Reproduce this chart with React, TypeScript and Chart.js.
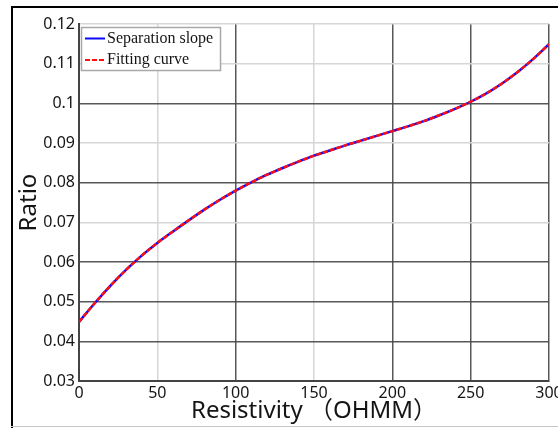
import React, { useEffect, useRef } from "react";
import { Chart, registerables } from "chart.js";

Chart.register(...registerables);

// Resistivity (OHMM) sample positions
const resistivity = [
  0, 10, 20, 30, 40, 50, 60, 70, 80, 90, 100, 110, 120, 130, 140, 150,
  160, 170, 180, 190, 200, 210, 220, 230, 240, 250, 260, 270, 280, 290, 300,
];

// Measured separation slope ratio
const separationSlope = [
  0.0449, 0.0496, 0.054, 0.058, 0.0616, 0.0648, 0.0677, 0.0705, 0.0732,
  0.0757, 0.078, 0.0801, 0.082, 0.0837, 0.0853, 0.0868, 0.0881, 0.0894,
  0.0906, 0.0918, 0.093, 0.0942, 0.0955, 0.097, 0.0986, 0.1004, 0.1025,
  0.105, 0.1079, 0.1112, 0.1149,
];

// Fitted curve evaluated at the same resistivities
const fittingCurve = [
  0.0449, 0.0496, 0.054, 0.058, 0.0616, 0.0648, 0.0677, 0.0705, 0.0732,
  0.0757, 0.078, 0.0801, 0.082, 0.0837, 0.0853, 0.0868, 0.0881, 0.0894,
  0.0906, 0.0918, 0.093, 0.0942, 0.0955, 0.097, 0.0986, 0.1004, 0.1025,
  0.105, 0.1079, 0.1112, 0.1149,
];

const xTicks = [0, 50, 100, 150, 200, 250, 300];
const yTicks = [0.03, 0.04, 0.05, 0.06, 0.07, 0.08, 0.09, 0.1, 0.11, 0.12];
const yTickLabels = ["0.03", "0.04", "0.05", "0.06", "0.07", "0.08", "0.09", "0.1", "0.11", "0.12"];

// Grid lines drawn in the darker tone
const majorX = [0, 100, 200, 250, 300];
const majorY = [0.03, 0.04, 0.05, 0.06, 0.08, 0.1];

const DARK = "rgba(70,70,70,0.9)";
const LIGHT = "#d6d6d6";
const TICK_FONT = { family: "'Noto Sans', 'DejaVu Sans', sans-serif", size: 16 };
const TITLE_FONT = { family: "'Noto Sans', 'Noto Sans CJK JP', sans-serif", size: 24 };

const near = (a: number, list: number[]) => list.some((v) => Math.abs(v - a) < 1e-6);

const decorPlugin = {
  id: "decor",
  beforeDraw(chart: any) {
    const { ctx, width, height } = chart;
    ctx.save();
    ctx.fillStyle = "#ffffff";
    ctx.fillRect(0, 0, width, height);
    ctx.restore();
  },
  afterDraw(chart: any) {
    const { ctx, width, height } = chart;
    ctx.save();
    // outer frame
    ctx.fillStyle = "#000";
    ctx.fillRect(11, 6, 2, height - 6);
    ctx.fillRect(11, 6, width - 11, 2);
    ctx.fillStyle = "#c8c8c8";
    ctx.fillRect(11, 426, width - 11, 1);

    // legend box
    const bx = 81.5, by = 27.5, bw = 139, bh = 43;
    ctx.fillStyle = "#fff";
    ctx.fillRect(bx, by, bw, bh);
    ctx.strokeStyle = "#a8a8a8";
    ctx.lineWidth = 1.5;
    ctx.strokeRect(bx, by, bw, bh);

    const rows = [38.5, 60];
    chart.data.datasets.forEach((ds: any, i: number) => {
      const y = rows[i];
      ctx.beginPath();
      ctx.setLineDash(ds.borderDash || []);
      ctx.strokeStyle = ds.borderColor;
      ctx.lineWidth = 2;
      ctx.moveTo(85, y);
      ctx.lineTo(105, y);
      ctx.stroke();
      ctx.setLineDash([]);
      ctx.fillStyle = "#151515";
      ctx.font = "16px 'Liberation Serif', 'DejaVu Serif', serif";
      ctx.textBaseline = "middle";
      ctx.textAlign = "left";
      ctx.fillText(ds.label, 107, y);
    });
    ctx.restore();
  },
};

export default function App() {
  const canvasRef = useRef<HTMLCanvasElement | null>(null);

  useEffect(() => {
    if (!canvasRef.current) return;
    const chart = new Chart(canvasRef.current, {
      type: "line",
      data: {
        datasets: [
          {
            label: "Separation slope",
            data: resistivity.map((x, i) => ({ x, y: separationSlope[i] })),
            borderColor: "#0a0aff",
            borderWidth: 2.5,
            pointRadius: 0,
            cubicInterpolationMode: "monotone",
            fill: false,
            order: 2,
          },
          {
            label: "Fitting curve",
            data: resistivity.map((x, i) => ({ x, y: fittingCurve[i] })),
            borderColor: "#ff1010",
            borderWidth: 2.5,
            borderDash: [5, 2],
            pointRadius: 0,
            cubicInterpolationMode: "monotone",
            fill: false,
            order: 1,
          },
        ],
      },
      options: {
        animation: false,
        responsive: false,
        devicePixelRatio: 1,
        layout: { autoPadding: false, padding: { top: 24, right: 9, left: 0, bottom: 0 } },
        plugins: { legend: { display: false }, tooltip: { enabled: false } },
        scales: {
          x: {
            type: "linear",
            min: 0,
            max: 300,
            afterFit: (s: any) => {
              s.height = 47;
              s.paddingLeft = 0;
              s.paddingRight = 0;
            },
            afterBuildTicks: (s: any) => {
              s.ticks = xTicks.map((v) => ({ value: v }));
            },
            grid: {
              drawTicks: false,
              color: (c: any) => (near(c.tick.value, majorX) ? DARK : LIGHT),
              lineWidth: 1.5,
            },
            border: { color: "#444", width: 2 },
            ticks: {
              autoSkip: false,
              maxRotation: 0,
              padding: 3,
              color: "#151515",
              font: TICK_FONT,
              callback: (v: any) => String(v),
            },
            title: {
              display: true,
              text: "Resistivity （OHMM）",
              color: "#151515",
              font: TITLE_FONT,
              padding: { top: 0, bottom: 2 },
            },
          },
          y: {
            type: "linear",
            min: 0.03,
            max: 0.12,
            afterFit: (s: any) => {
              s.width = 79;
              s.paddingTop = 0;
              s.paddingBottom = 0;
            },
            afterBuildTicks: (s: any) => {
              s.ticks = yTicks.map((v) => ({ value: v }));
            },
            grid: {
              drawTicks: false,
              color: (c: any) => (near(c.tick.value, majorY) ? DARK : LIGHT),
              lineWidth: 1.5,
            },
            border: { color: "#444", width: 2 },
            ticks: {
              autoSkip: false,
              padding: 4,
              color: "#151515",
              font: TICK_FONT,
              callback: (v: any) => {
                const i = yTicks.findIndex((t) => Math.abs(t - v) < 1e-6);
                return i >= 0 ? yTickLabels[i] : "";
              },
            },
            title: {
              display: true,
              text: "Ratio",
              color: "#151515",
              font: TITLE_FONT,
              padding: { top: 15, bottom: 0 },
            },
          },
        },
      },
      plugins: [decorPlugin],
    } as any);
    return () => chart.destroy();
  }, []);

  return (
    <div style={{ position: "fixed", left: 0, top: 0, width: 558, height: 428, overflow: "hidden", background: "#fff" }}>
      <canvas ref={canvasRef} width={558} height={428} style={{ display: "block" }} />
    </div>
  );
}
